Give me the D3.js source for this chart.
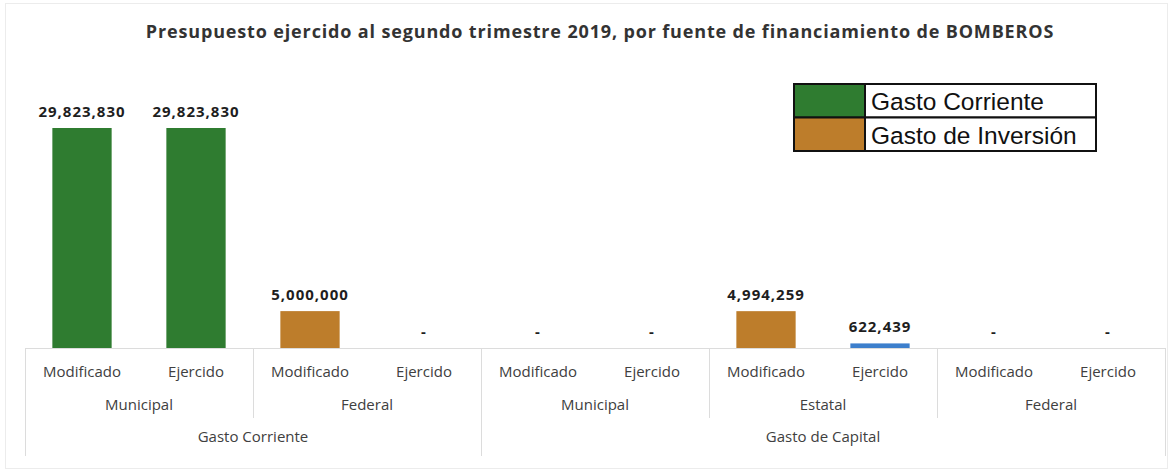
<!DOCTYPE html>
<html>
<head>
<meta charset="utf-8">
<script src="https://cdn.jsdelivr.net/npm/d3@7"></script>
<style>
  body { margin: 0; background: #fff; }
  svg { display: block; }
</style>
</head>
<body>
<div id="chart"></div>
<script>
// data
const fases = ["Modificado", "Ejercido", "Modificado", "Ejercido", "Modificado", "Ejercido", "Modificado", "Ejercido", "Modificado", "Ejercido"];
const fuentes = ["Municipal", "Federal", "Municipal", "Estatal", "Federal"];
const capitulos = ["Gasto Corriente", "Gasto de Capital"];
const valores = [29823830, 29823830, 5000000, 0, 0, 0, 4994259, 622439, 0, 0];
const leyenda = ["Gasto Corriente", "Gasto de Inversión"];

// styles
const verde = "#2f7c30", cafe = "#bd7d2b", azul = "#3d7fcc";
const barFill = [verde, verde, cafe, cafe, cafe, cafe, cafe, azul, cafe, cafe];
const W = 1173, H = 471;
const left = 25, right = 1165, baseY = 348, topY = 128;
const gridColor = "#dcdcdc";

const svg = d3.select("#chart").append("svg")
    .attr("width", W)
    .attr("height", H);

// faint page border
svg.append("rect")
    .attr("x", 5.5).attr("y", 3.5)
    .attr("width", W - 11).attr("height", H - 6)
    .attr("fill", "none").attr("stroke", "#ececec");

// title
svg.append("text")
    .attr("x", 600).attr("y", 38)
    .attr("text-anchor", "middle")
    .style("font-family", "'Open Sans', sans-serif")
    .style("font-weight", "bold")
    .style("font-size", "18px")
    .style("letter-spacing", "0.85px")
    .attr("fill", "#333")
    .text("Presupuesto ejercido al segundo trimestre 2019, por fuente de financiamiento de BOMBEROS");

const idx = d3.range(valores.length);
const x = d3.scaleBand()
    .domain(idx)
    .range([left, right])
    .paddingInner(0.48)
    .paddingOuter(0.24);
const step = x.step();
const slotX = i => left + i * (right - left) / valores.length;

const y = d3.scaleLinear()
    .domain([0, d3.max(valores)])
    .range([baseY, topY]);

// bars
svg.selectAll("rect.bar")
    .data(idx)
    .join("rect")
    .attr("class", "bar")
    .attr("x", i => x(i))
    .attr("y", i => y(valores[i]))
    .attr("width", x.bandwidth())
    .attr("height", i => baseY - y(valores[i]))
    .attr("fill", i => barFill[i]);

// value labels
const fmt = d3.format(",");
svg.selectAll("text.val")
    .data(idx)
    .join("text")
    .attr("class", "val")
    .attr("x", i => x(i) + x.bandwidth() / 2)
    .attr("y", i => y(valores[i]) - 11)
    .attr("text-anchor", "middle")
    .style("font-family", "'Open Sans', sans-serif")
    .style("font-weight", "bold")
    .style("font-size", "15px")
    .style("letter-spacing", "1px")
    .attr("fill", "#1e1e1e")
    .text(i => valores[i] === 0 ? "-" : fmt(valores[i]));

// axis line
svg.append("line")
    .attr("x1", left).attr("x2", right)
    .attr("y1", baseY + 0.5).attr("y2", baseY + 0.5)
    .attr("stroke", gridColor);

const labelStyle = sel => sel
    .attr("text-anchor", "middle")
    .style("font-family", "'Open Sans', sans-serif")
    .style("font-size", "15px")
    .attr("fill", "#404040");

// tier 1: fase
svg.selectAll("text.fase")
    .data(idx)
    .join("text")
    .attr("class", "fase")
    .attr("x", i => x(i) + x.bandwidth() / 2)
    .attr("y", 377)
    .call(labelStyle)
    .text(i => fases[i]);

// tier 2: fuente (2 bars each)
svg.selectAll("text.fuente")
    .data(fuentes)
    .join("text")
    .attr("class", "fuente")
    .attr("x", (d, j) => slotX(j * 2) + step)
    .attr("y", 410)
    .call(labelStyle)
    .text(d => d);

// tier 3: capitulo
const capStart = [0, 4], capLen = [4, 6];
svg.selectAll("text.cap")
    .data(capitulos)
    .join("text")
    .attr("class", "cap")
    .attr("x", (d, j) => slotX(capStart[j]) + capLen[j] * step / 2)
    .attr("y", 442)
    .call(labelStyle)
    .text(d => d);

// separators
const sepFuente = [2, 6, 8];
svg.selectAll("line.sepF")
    .data(sepFuente)
    .join("line")
    .attr("class", "sepF")
    .attr("x1", d => Math.round(slotX(d)) + 0.5)
    .attr("x2", d => Math.round(slotX(d)) + 0.5)
    .attr("y1", baseY).attr("y2", 418)
    .attr("stroke", gridColor);

const sepCap = [0, 4, 10];
svg.selectAll("line.sepC")
    .data(sepCap)
    .join("line")
    .attr("class", "sepC")
    .attr("x1", d => Math.round(slotX(d)) + 0.5)
    .attr("x2", d => Math.round(slotX(d)) + 0.5)
    .attr("y1", baseY).attr("y2", 456)
    .attr("stroke", gridColor);

// legend
const lg = svg.append("g").attr("transform", "translate(794,84)");
const rowH = 33.5;
lg.selectAll("rect.sw")
    .data(leyenda)
    .join("rect")
    .attr("class", "sw")
    .attr("x", 0)
    .attr("y", (d, i) => i * rowH)
    .attr("width", 71)
    .attr("height", rowH)
    .attr("fill", (d, i) => i === 0 ? verde : cafe)
    .attr("stroke", "#111")
    .attr("stroke-width", 2);
lg.selectAll("rect.cell")
    .data(leyenda)
    .join("rect")
    .attr("class", "cell")
    .attr("x", 71)
    .attr("y", (d, i) => i * rowH)
    .attr("width", 231)
    .attr("height", rowH)
    .attr("fill", "#fff")
    .attr("stroke", "#111")
    .attr("stroke-width", 2);
lg.selectAll("text")
    .data(leyenda)
    .join("text")
    .attr("x", 77)
    .attr("y", (d, i) => i * rowH + 26)
    .style("font-family", "'Liberation Sans', Arial, sans-serif")
    .style("font-size", "24.5px")
    .attr("fill", "#111")
    .text(d => d);
</script>
</body>
</html>
